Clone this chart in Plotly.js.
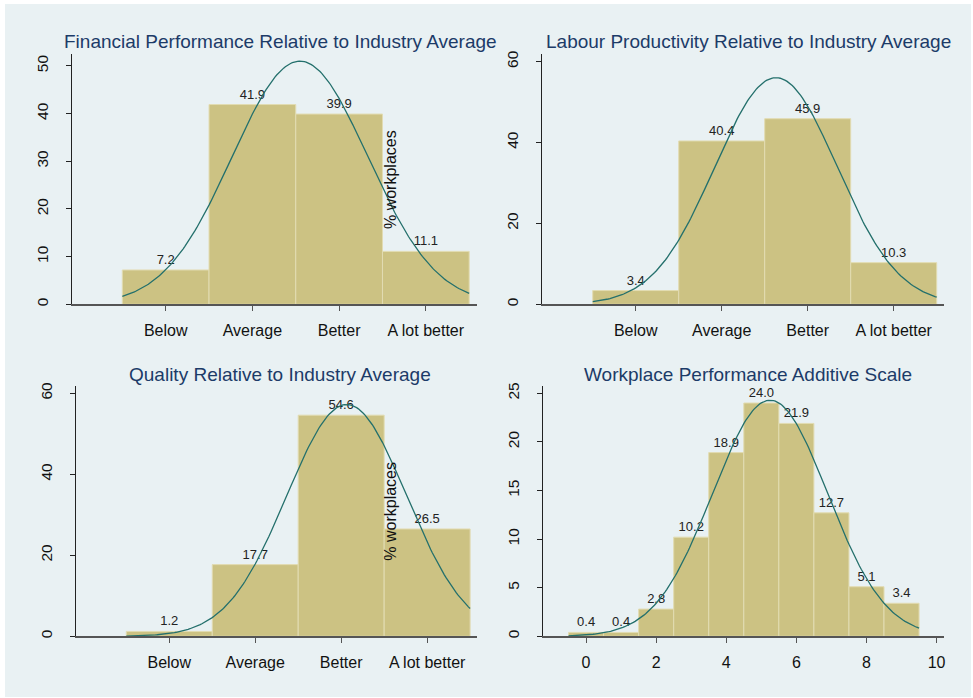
<!DOCTYPE html>
<html><head><meta charset="utf-8">
<script src="https://cdn.plot.ly/plotly-3.0.1.min.js"></script>
<style>html,body{margin:0;padding:0;background:#fff}#chart{width:973px;height:698px}</style>
</head><body><div id="chart"></div>
<script>
// ---- data ----
const ratingCategories = ['Below', 'Average', 'Better', 'A lot better'];
const financialPct = [7.2, 41.9, 39.9, 11.1];
const labourPct = [3.4, 40.4, 45.9, 10.3];
const qualityPct = [1.2, 17.7, 54.6, 26.5];
const scaleValues = [0, 1, 2, 3, 4, 5, 6, 7, 8, 9];
const scalePct = [0.4, 0.4, 2.8, 10.2, 18.9, 24.0, 21.9, 12.7, 5.1, 3.4];
const scaleTicks = [0, 2, 4, 6, 8, 10];
const panelTitles = [
  'Financial Performance Relative to Industry Average',
  'Labour Productivity Relative to Industry Average',
  'Quality Relative to Industry Average',
  'Workplace Performance Additive Scale'
];
const yTitle = '% workplaces';
const yTicksFin = [0, 10, 20, 30, 40, 50];
const yTicks60 = [0, 20, 40, 60];
const yTicksScale = [0, 5, 10, 15, 20, 25];

// ---- helpers ----
const W = 973, H = 698;
const px = v => v / W;
const py = v => 1 - v / H;
const ratingCodes = ratingCategories.map((c, i) => i + 1);

// normal density fitted to a histogram (mean / sd of the binned data), scaled to percent
function normalFit(xs, pct) {
  const tot = pct.reduce((a, b) => a + b, 0);
  const mean = xs.reduce((a, x, i) => a + x * pct[i], 0) / tot;
  const vr = xs.reduce((a, x, i) => a + (x - mean) * (x - mean) * pct[i], 0) / tot;
  const sd = Math.sqrt(vr);
  const lo = xs[0] - 0.5, hi = xs[xs.length - 1] + 0.5;
  const cx = [], cy = [];
  const n = 200;
  for (let k = 0; k <= n; k++) {
    const x = lo + (hi - lo) * k / n;
    cx.push(x);
    cy.push(tot * Math.exp(-0.5 * ((x - mean) / sd) ** 2) / (sd * Math.sqrt(2 * Math.PI)));
  }
  return {cx, cy};
}

const barColor = '#CCC283';
const barLine = '#E2DCB2';
const curveColor = '#24706C';
const gridColor = '#E9F1F3';
const font = 'Liberation Sans, Arial, sans-serif';

const traces = [];
function addPanel(xs, pct, n) {
  const sfx = n === 1 ? '' : String(n);
  traces.push({
    type: 'bar', x: xs, y: pct, width: 1,
    xaxis: 'x' + sfx, yaxis: 'y' + sfx,
    marker: {color: barColor, line: {color: barLine, width: 1}},
    texttemplate: '%{y:.1f}', textposition: 'outside', cliponaxis: false,
    textfont: {size: 13, color: '#222', family: font},
    hoverinfo: 'skip', showlegend: false
  });
  const f = normalFit(xs, pct);
  traces.push({
    type: 'scatter', mode: 'lines', x: f.cx, y: f.cy,
    xaxis: 'x' + sfx, yaxis: 'y' + sfx,
    line: {color: curveColor, width: 1.3},
    hoverinfo: 'skip', showlegend: false, cliponaxis: false
  });
}
addPanel(ratingCodes, financialPct, 1);
addPanel(ratingCodes, labourPct, 2);
addPanel(ratingCodes, qualityPct, 3);
addPanel(scaleValues, scalePct, 4);

function xAx(domain, range, tickvals, ticktext, anchor) {
  const a = {
    domain, range, tickmode: 'array', tickvals, anchor,
    ticks: 'outside', ticklen: 5, tickwidth: 1, tickcolor: '#555',
    showline: true, linecolor: '#555', linewidth: 1.5,
    showgrid: false, zeroline: false, fixedrange: true,
    tickfont: {size: 16, color: '#111', family: font},
    ticklabelstandoff: 6
  };
  if (ticktext) a.ticktext = ticktext;
  return a;
}
function yAx(domain, range, tickvals, anchor) {
  return {
    domain, range, tickmode: 'array', tickvals, anchor,
    ticks: 'outside', ticklen: 5, tickwidth: 1, tickcolor: '#222',
    showline: true, linecolor: '#222', linewidth: 1.2,
    showgrid: true, gridcolor: gridColor, gridwidth: 2,
    zeroline: false, fixedrange: true, tickangle: -90,
    tickfont: {size: 15.5, color: '#111', family: font},
    ticklabelstandoff: 12
  };
}

const topY = [py(304.3), py(54)];
const botY = [py(636.3), py(386)];
const layout = {
  width: W, height: H,
  margin: {l: 0, r: 0, t: 0, b: 0},
  paper_bgcolor: '#ffffff', plot_bgcolor: '#ffffff',
  font: {family: font},
  showlegend: false,
  xaxis: xAx([px(72), px(477)], [-0.08, 4.59], ratingCodes, ratingCategories, 'y'),
  yaxis: yAx(topY, [0, 52.5], yTicksFin, 'x'),
  xaxis2: xAx([px(542), px(944)], [-0.09, 4.585], ratingCodes, ratingCategories, 'y2'),
  yaxis2: yAx(topY, [0, 61.9], yTicks60, 'x2'),
  xaxis3: xAx([px(76), px(477)], [-0.085, 4.58], ratingCodes, ratingCategories, 'y3'),
  yaxis3: yAx(botY, [0, 61.8], yTicks60, 'x3'),
  xaxis4: xAx([px(543.3), px(944.3)], [-1.22, 10.22], scaleTicks, null, 'y4'),
  yaxis4: yAx(botY, [0, 25.75], yTicksScale, 'x4'),
  shapes: [{
    type: 'rect', xref: 'paper', yref: 'paper', layer: 'below',
    x0: px(5), x1: px(971), y0: py(697), y1: py(4),
    fillcolor: '#E9F1F3', line: {width: 0}
  }],
  annotations: [
    {text: panelTitles[0], x: px(280), y: py(41.5)},
    {text: panelTitles[1], x: px(748), y: py(41.5)},
    {text: panelTitles[2], x: px(280), y: py(374)},
    {text: panelTitles[3], x: px(748), y: py(374)}
  ].map(a => Object.assign(a, {
    xref: 'paper', yref: 'paper', xanchor: 'center', yanchor: 'middle',
    showarrow: false, font: {size: 19, color: '#1C3B68', family: font}
  })).concat([
    {text: yTitle, x: px(391), y: py(180)},
    {text: yTitle, x: px(391), y: py(511.7)}
  ].map(a => Object.assign(a, {
    xref: 'paper', yref: 'paper', xanchor: 'center', yanchor: 'middle',
    textangle: -90, showarrow: false, font: {size: 16, color: '#111', family: font}
  })))
};

Plotly.newPlot('chart', traces, layout, {staticPlot: true, displayModeBar: false});
</script>
</body></html>
